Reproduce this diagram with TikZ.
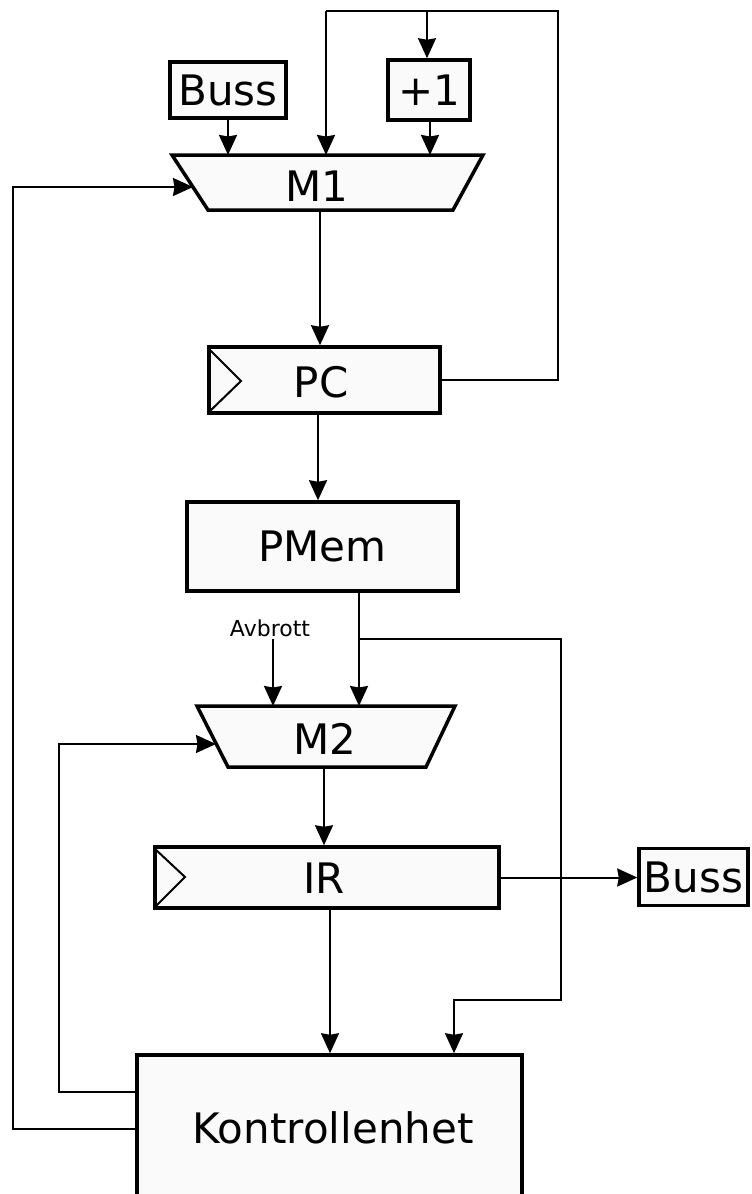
\documentclass[tikz,border=0pt]{standalone}
\usepackage{fontspec}
\setmainfont{DejaVu Sans}
\usetikzlibrary{arrows.meta}

\begin{document}
\begin{tikzpicture}[x=1pt,y=-1pt,
  box/.style={draw=black, line width=3.5pt, fill=black!2, inner sep=0pt,
              font=\fontsize{42}{50}\selectfont},
  lbl/.style={inner sep=0pt, font=\fontsize{42}{50}\selectfont},
  small/.style={inner sep=0pt, font=\fontsize{22}{26}\selectfont},
  wire/.style={line width=2pt},
  arr/.style={wire, -{Stealth[length=20pt,width=18pt,inset=1.5pt]}},
  clock/.style={line width=2pt}]
\useasboundingbox (0,0) rectangle (752,1194);

% --- multiplexer M1 ---
\fill[black!2] (172,155) -- (483,155) -- (453,210) -- (208,210) -- cycle;
\draw[line width=3.5pt, line join=miter] (172,155) -- (483,155) -- (453,210) -- (208,210) -- cycle;
\node[lbl] (m1) at (317,186) {M1};
\coordinate (m1a) at (228,155);
\coordinate (m1b) at (326,155);
\coordinate (m1c) at (430,155);
\coordinate (m1l) at (193,187);
\coordinate (m1o) at (320,210);

% --- multiplexer M2 ---
\fill[black!2] (197,706) -- (455,706) -- (426,767) -- (228,767) -- cycle;
\draw[line width=3.5pt, line join=miter] (197,706) -- (455,706) -- (426,767) -- (228,767) -- cycle;
\node[lbl] (m2) at (325,739) {M2};
\coordinate (m2a) at (273,706);
\coordinate (m2b) at (359,706);
\coordinate (m2l) at (216,744);
\coordinate (m2o) at (324,767);

% --- boxes ---
\node[box, minimum width=116pt, minimum height=56pt] (bussin) at (228,90) {Buss};
\node[box, minimum width=82pt, minimum height=60pt] (plus) at (429,90) {+1};
\node[box, minimum width=231pt, minimum height=66pt] (pc) at (324.5,380) {};
\node[lbl] (pct) at (321,382) {PC};
\node[box, minimum width=271pt, minimum height=89pt] (pmem) at (322.5,546.5) {PMem};
\node[box, minimum width=344pt, minimum height=61pt] (ir) at (327,877.5) {};
\node[lbl] (irt) at (324,878) {IR};
\node[box, minimum width=109pt, minimum height=57pt] (bussout) at (693.5,877) {Buss};
\node[box, minimum width=385pt, minimum height=170pt] (ctrl) at (329.5,1140) {};
\node[lbl] (ctrlt) at (333,1128) {Kontrollenhet};
\node[small] (avb) at (270,628) {Avbrott};

% clock marks
\draw[clock] (pc.north west) ++(1,3) -- (241,381) -- (210,411);
\draw[clock] (ir.north west) ++(1,3) -- (185,877) -- (156,906);

% --- connections ---
\draw[arr] (bussin.south) -- (m1a);
\draw[arr] (plus.south -| m1c) -- (m1c);
\coordinate (tr) at (558,11);
\coordinate (tl) at (326,11);
\draw[wire] (pc.east) -- (pc.east -| tr) -- (tr) -- (tl);
\draw[arr] (tl) -- (m1b);
\draw[arr] (427,11) -- (plus.north -| 427,0);
\draw[arr] (m1o) -- (pc.north -| m1o);
\draw[arr] (pc.south -| 318,0) -- (pmem.north -| 318,0);

\coordinate (br) at (359,639);
\draw[arr] (pmem.south -| br) -- (m2b);
\draw[arr] (br) -- (561,639) -- (561,1000) -- (454,1000) -- (ctrl.north -| 454,0);
\draw[arr] (avb.south -| m2a) ++(0,2) -- (m2a);

\draw[arr] (m2o) -- (ir.north -| m2o);
\draw[arr] (ir.east) -- (ir.east -| bussout.west);
\draw[arr] (ir.south -| 330,0) -- (ctrl.north -| 330,0);

\draw[arr] (ctrl.west |- 0,1092) -- (59,1092) -- (59,744) -- (m2l);
\draw[arr] (ctrl.west |- 0,1129) -- (13,1129) -- (13,187) -- (m1l);
\end{tikzpicture}
\end{document}
